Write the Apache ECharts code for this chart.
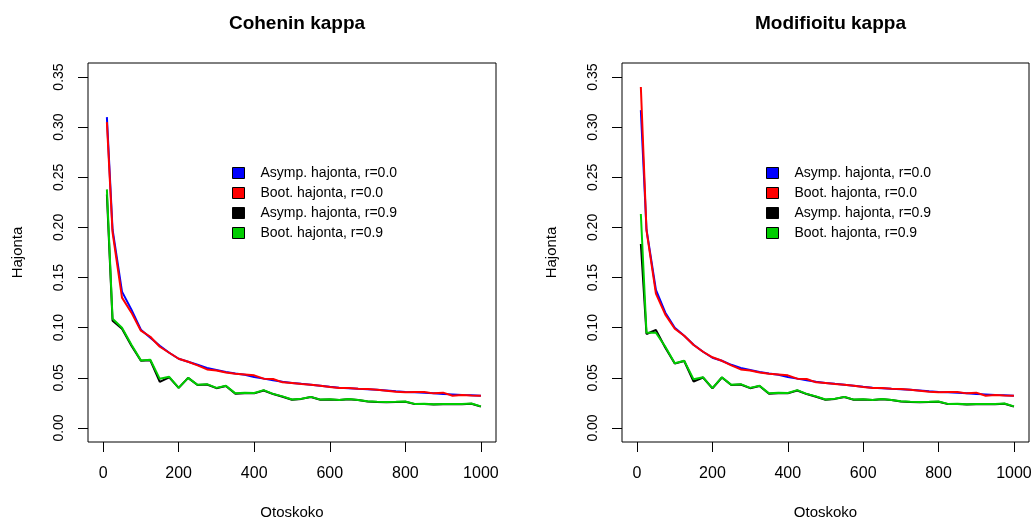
<!DOCTYPE html>
<html>
<head>
<meta charset="utf-8">
<script src="https://cdn.jsdelivr.net/npm/echarts@6/dist/echarts.min.js"></script>
<style>html,body{margin:0;padding:0;background:#fff}#c{width:1035px;height:521px}</style>
</head>
<body>
<div id="c"></div>
<script>
const sampleSizes = [10,25,50,75,100,125,150,175,200,225,250,275,300,325,350,375,400,425,450,475,500,525,550,575,600,625,650,675,700,725,750,775,800,825,850,875,900,925,950,975,1000];
const xTicks = [0,200,400,600,800,1000];
const yTicks = [0,0.05,0.10,0.15,0.20,0.25,0.30,0.35];
const seriesNames = ['Asymp. hajonta, r=0.0','Boot. hajonta, r=0.0','Asymp. hajonta, r=0.9','Boot. hajonta, r=0.9'];
const seriesColors = ['#0000FF','#FF0000','#000000','#00CD00'];
const titles = ['Cohenin kappa','Modifioitu kappa'];

// Cohenin kappa
const cohenAsym00 = [0.310,0.198,0.136,0.118,0.098,0.090,0.082,0.075,0.069,0.066,0.0630,0.0598,0.0578,0.0558,0.0543,0.0530,0.0508,0.0492,0.0476,0.0460,0.0449,0.0440,0.0432,0.0422,0.0411,0.0402,0.0397,0.0390,0.0385,0.0380,0.0373,0.0365,0.0358,0.0355,0.0350,0.0345,0.0339,0.0335,0.0330,0.0326,0.0322];
const cohenBoot00 = [0.305,0.195,0.130,0.115,0.097,0.091,0.081,0.075,0.069,0.066,0.0624,0.0584,0.0574,0.0554,0.0541,0.0534,0.0525,0.0492,0.0488,0.0455,0.0448,0.0439,0.0432,0.0422,0.0409,0.0399,0.0399,0.0392,0.0389,0.0382,0.0372,0.0362,0.0355,0.0358,0.0358,0.0345,0.0352,0.0322,0.0329,0.0325,0.0322];
const cohenAsym09 = [0.233,0.107,0.099,0.082,0.0670,0.0675,0.046,0.0505,0.0400,0.0500,0.0428,0.0433,0.0397,0.0418,0.0342,0.0347,0.0345,0.0374,0.0338,0.0312,0.0281,0.0290,0.0308,0.0281,0.0284,0.0278,0.0287,0.0278,0.0264,0.0260,0.0257,0.0259,0.0262,0.0238,0.0240,0.0235,0.0237,0.0237,0.0237,0.0242,0.0213];
const cohenBoot09 = [0.238,0.109,0.100,0.083,0.0674,0.0680,0.049,0.0510,0.0400,0.0500,0.0430,0.0437,0.0400,0.0422,0.0345,0.0350,0.0348,0.0377,0.0340,0.0315,0.0284,0.0292,0.0310,0.0283,0.0286,0.0280,0.0289,0.0280,0.0266,0.0262,0.0259,0.0261,0.0264,0.0240,0.0242,0.0237,0.0239,0.0239,0.0239,0.0244,0.0215];

// Modifioitu kappa
const modAsym00 = [0.317,0.198,0.1376,0.115,0.100,0.092,0.083,0.076,0.070,0.067,0.0630,0.0598,0.0578,0.0558,0.0543,0.0530,0.0508,0.0492,0.0476,0.0460,0.0449,0.0440,0.0432,0.0422,0.0411,0.0402,0.0397,0.0390,0.0385,0.0380,0.0373,0.0365,0.0358,0.0355,0.0350,0.0345,0.0339,0.0335,0.0330,0.0326,0.0322];
const modBoot00 = [0.340,0.197,0.134,0.113,0.099,0.092,0.0828,0.076,0.0705,0.067,0.0624,0.0584,0.0574,0.0554,0.0541,0.0534,0.0525,0.0492,0.0488,0.0455,0.0448,0.0439,0.0432,0.0422,0.0409,0.0399,0.0399,0.0392,0.0389,0.0382,0.0372,0.0362,0.0355,0.0358,0.0358,0.0345,0.0352,0.0322,0.0329,0.0325,0.0322];
const modAsym09 = [0.1835,0.0937,0.0977,0.080,0.0642,0.0668,0.0463,0.0503,0.0395,0.0503,0.0428,0.0433,0.0397,0.0418,0.0342,0.0347,0.0345,0.0374,0.0338,0.0312,0.0281,0.0290,0.0308,0.0281,0.0284,0.0278,0.0287,0.0278,0.0264,0.0260,0.0257,0.0259,0.0262,0.0238,0.0240,0.0235,0.0237,0.0237,0.0237,0.0242,0.0213];
const modBoot09 = [0.2134,0.095,0.095,0.081,0.0645,0.067,0.0485,0.0505,0.0397,0.0505,0.0430,0.0437,0.0400,0.0422,0.0345,0.0350,0.0348,0.0377,0.0340,0.0315,0.0284,0.0292,0.0310,0.0283,0.0286,0.0280,0.0289,0.0280,0.0266,0.0262,0.0259,0.0261,0.0264,0.0240,0.0242,0.0237,0.0239,0.0239,0.0239,0.0244,0.0215];

const panels = [[cohenAsym00,cohenBoot00,cohenAsym09,cohenBoot09],[modAsym00,modBoot00,modAsym09,modBoot09]];

const FONT = '"Liberation Sans", Arial, Helvetica, sans-serif';
const gridPos = [{left:88, top:63, width:408, height:379},{left:622, top:63, width:407, height:379}];

const option = {
  animation: false,
  backgroundColor: '#fff',
  textStyle: {fontFamily: FONT},
  title: titles.map((t,i) => ({
    text: t,
    left: gridPos[i].left + gridPos[i].width/2,
    top: 9,
    textAlign: 'center',
    textStyle: {fontFamily: FONT, fontSize: 19, fontWeight: 'bold', color: '#000'}
  })),
  grid: gridPos.map(g => Object.assign({show: true, borderColor: '#000', borderWidth: 1,
    backgroundColor: 'transparent', containLabel: false, outerBoundsMode: 'none'}, g)),
  legend: [0,1].map(i => ({
    data: seriesNames,
    orient: 'vertical',
    left: gridPos[i].left + 139,
    top: 161,
    icon: 'rect',
    itemWidth: 12,
    itemHeight: 11,
    itemGap: 6,
    selectedMode: false,
    itemStyle: {borderColor: '#000', borderWidth: 1},
    textStyle: {fontFamily: FONT, fontSize: 14, color: '#000', padding: [0,0,0,11]}
  })),
  xAxis: [0,1].map(i => ({
    type: 'value', gridIndex: i, min: -40, max: 1040,
    name: 'Otoskoko', nameLocation: 'middle', nameGap: 63,
    nameTextStyle: {fontFamily: FONT, fontSize: 15, color: '#000'},
    axisLine: {show: false, onZero: false},
    splitLine: {show: false},
    axisTick: {show: true, inside: false, customValues: xTicks, length: 10, lineStyle: {color: '#000'}},
    axisLabel: {customValues: xTicks, margin: 24, fontSize: 16, color: '#000', fontFamily: FONT,
      formatter: v => String(v)}
  })),
  yAxis: [0,1].map(i => ({
    type: 'value', gridIndex: i, min: -0.014, max: 0.364,
    name: 'Hajonta', nameLocation: 'middle', nameGap: 63,
    nameTextStyle: {fontFamily: FONT, fontSize: 15, color: '#000'},
    axisLine: {show: false, onZero: false},
    splitLine: {show: false},
    axisTick: {show: true, inside: false, customValues: yTicks, length: 10, lineStyle: {color: '#000'}},
    axisLabel: {customValues: yTicks, rotate: 90, margin: 22, fontSize: 14, color: '#000', fontFamily: FONT,
      formatter: v => v.toFixed(2)}
  })),
  series: []
};

panels.forEach((arrs, p) => {
  arrs.forEach((vals, k) => {
    option.series.push({
      name: seriesNames[k],
      type: 'line',
      xAxisIndex: p, yAxisIndex: p,
      data: sampleSizes.map((n, j) => [n, vals[j]]),
      showSymbol: false,
      symbol: 'none',
      color: seriesColors[k],
      lineStyle: {color: seriesColors[k], width: 2},
      z: 2 + k
    });
  });
});

const chart = echarts.init(document.getElementById('c'), null, {renderer: 'canvas'});
chart.setOption(option);
</script>
</body>
</html>
